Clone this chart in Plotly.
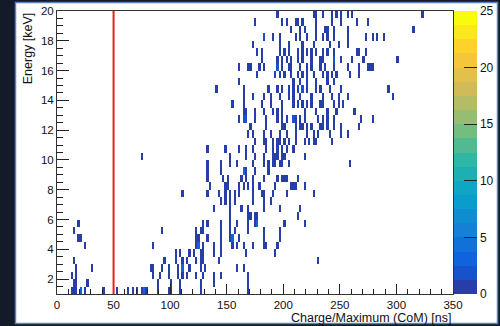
import numpy as np
import plotly.graph_objects as go

# ---------------- data ----------------
# energy bin centres (keV) and, per energy row, the CoM positions (ns) of occupied cells
energy_rows = [19.75, 19.25, 18.75, 18.25, 17.75, 17.25, 16.75, 16.25, 15.75, 15.25,
               14.75, 14.25, 13.75, 13.25, 12.75, 12.25, 11.75, 11.25, 10.75, 10.25,
               9.75, 9.25, 8.75, 8.25, 7.75, 7.25, 6.75, 6.25, 5.75, 5.25,
               4.75, 4.25, 3.75, 3.25, 2.75, 2.25, 1.75, 1.25]

com_rows = [
    [194.5, 226.3, 228.1, 235.1, 243.1, 247.5, 251.9, 257.2, 261.7, 322.7],
    [175.0, 198.0, 202.5, 210.4, 212.2, 217.5, 229.8, 243.1, 251.9, 265.2, 274.9],
    [206.0, 214.8, 219.2, 229.8, 236.9, 239.6, 245.8, 256.4, 314.7],
    [183.9, 190.9, 197.1, 210.4, 214.8, 221.9, 228.1, 234.3, 238.7, 244.0, 256.4, 272.3, 278.4, 282.9, 289.9],
    [173.3, 197.1, 204.2, 216.6, 226.3, 241.3, 248.4, 257.2],
    [177.7, 180.3, 197.1, 201.6, 204.2, 213.0, 216.6, 221.9, 224.5, 229.8, 235.1, 238.7, 244.0, 265.2, 267.9, 272.3],
    [180.3, 194.5, 199.8, 203.3, 207.7, 212.2, 216.6, 225.4, 233.4, 235.1, 245.8, 251.9, 261.7, 270.5, 300.6],
    [161.8, 168.8, 170.6, 179.5, 183.9, 194.5, 199.8, 204.2, 207.7, 214.8, 221.0, 225.4, 232.5, 236.9, 245.8, 256.4, 266.1, 274.9, 276.7, 278.4],
    [177.7, 192.7, 197.1, 201.6, 206.0, 213.0, 216.6, 221.0, 226.3, 234.3, 238.7, 243.1, 247.5, 259.0, 266.1],
    [160.0, 208.6, 214.8, 221.9, 229.8, 239.6, 244.0],
    [140.6, 164.4, 186.5, 195.4, 199.8, 204.2, 208.6, 213.0, 216.6, 221.9, 229.8, 232.5, 241.3, 250.2, 292.6],
    [164.4, 173.3, 183.9, 189.2, 196.3, 205.1, 208.6, 215.7, 225.4, 234.3, 243.1, 248.4, 256.4, 296.1],
    [154.7, 164.4, 180.3, 189.2, 198.0, 208.6, 212.2, 217.5, 221.9, 225.4, 232.5, 235.1, 244.0, 248.4, 252.8],
    [164.4, 166.2, 174.1, 183.0, 190.1, 194.5, 199.8, 219.2, 229.8, 238.7, 247.5, 263.4],
    [160.0, 164.4, 166.2, 174.1, 184.7, 194.5, 198.9, 203.3, 208.6, 211.3, 214.8, 219.2, 230.7, 234.3, 238.7, 245.8, 269.6, 278.4],
    [170.6, 185.6, 198.0, 201.6, 210.4, 214.8, 217.5, 221.9, 225.4, 232.5, 235.1, 238.7, 244.0, 251.9, 267.9],
    [168.0, 172.4, 182.1, 188.3, 197.1, 203.3, 210.4, 221.9, 226.3, 230.7, 241.3, 250.2, 257.2],
    [175.0, 182.1, 185.6, 190.9, 194.5, 197.1, 201.6, 204.2, 210.4, 219.2, 223.7, 226.3, 229.8, 243.1],
    [133.5, 148.5, 161.0, 166.2, 173.3, 185.6, 190.1, 194.5, 198.9, 203.3, 208.6],
    [75.1, 152.9, 166.2, 175.0, 183.9, 190.1, 192.7, 195.4, 198.9, 201.6, 219.2],
    [132.6, 145.9, 152.0, 158.3, 172.4, 182.1, 186.5, 190.9, 193.6, 196.3, 199.8, 204.2, 259.0],
    [132.6, 145.9, 164.4, 167.1, 175.0, 186.5],
    [132.6, 147.6, 150.3, 162.6, 166.2, 173.3, 183.9, 195.4, 198.0, 200.7, 203.3, 213.0],
    [135.3, 148.5, 151.2, 161.8, 165.3, 168.0, 173.3, 179.5, 192.7, 206.0, 208.6, 210.4, 219.2],
    [111.4, 132.6, 142.3, 148.5, 152.9, 157.4, 160.0, 173.3, 181.2, 183.9, 190.9, 203.3, 226.3],
    [144.1, 148.5, 152.9, 157.4, 173.3, 182.1, 188.3],
    [138.0, 153.8, 163.5, 168.0, 183.9, 197.1, 214.8],
    [152.9, 168.8, 171.5, 174.1, 176.8, 212.2],
    [18.6, 129.9, 132.6, 144.1, 152.9, 159.1, 168.8, 175.0, 176.8, 201.6, 219.2],
    [14.1, 93.7, 123.8, 126.4, 128.2, 144.1, 152.9, 157.4, 168.8, 183.9, 197.1],
    [18.6, 20.3, 122.0, 124.6, 133.5, 144.1, 152.0, 155.6, 160.0, 183.9, 197.1],
    [24.8, 84.0, 122.0, 124.6, 129.9, 138.0, 145.9, 154.7, 159.1, 164.4, 173.3, 182.1, 185.6, 194.5],
    [104.3, 108.7, 117.6, 120.2, 126.4, 129.1, 138.0, 145.0, 166.2, 192.7],
    [14.1, 95.5, 104.3, 110.5, 114.9, 122.0, 126.4, 129.9, 142.3, 230.7],
    [17.7, 30.9, 82.2, 84.9, 92.8, 99.9, 107.9, 110.5, 117.6, 126.4, 130.8, 158.3, 164.4],
    [13.3, 17.7, 84.0, 91.0, 98.1, 107.0, 110.5, 114.9, 123.8, 129.1, 138.0, 144.1, 168.8],
    [15.9, 17.7, 26.5, 88.4, 101.7, 108.7, 126.4, 139.7, 168.0],
    [13.0, 15.9, 17.7, 20.3, 24.8, 40.7, 53.0, 62.8, 66.3, 70.7, 75.5, 77.8, 79.6, 88.4, 98.1, 101.7, 108.7, 126.4, 168.0],
]

# additional counts in the brighter (multi-count) cells
extra_com = [164.4, 164.4, 176.8, 176.8, 155.6, 155.6, 124.6, 124.6, 110.5, 110.5,
             20.3, 20.3, 77.8, 77.8, 183.9, 216.6, 194.5, 245.8, 208.6, 166.2, 164.4]
extra_energy = [9.25, 9.25, 5.75, 5.75, 4.75, 4.75, 4.25, 4.25, 2.75, 2.75,
                1.25, 1.25, 1.25, 1.25, 18.25, 14.75, 16.25, 16.75, 12.75, 12.75, 12.75]

cut_com = 50
x_ticks = [0, 50, 100, 150, 200, 250, 300, 350]
y_ticks = [2, 4, 6, 8, 10, 12, 14, 16, 18, 20]
cbar_ticks = [0, 5, 10, 15, 20, 25]

# ---------------- histogram ----------------
x_edges = np.linspace(0, 350, 176)   # 2 ns bins
y_edges = np.linspace(1, 20, 39)     # 0.5 keV bins
nx, ny = len(x_edges) - 1, len(y_edges) - 1

base_com = np.array([c for row in com_rows for c in row])
base_e = np.array([e for e, row in zip(energy_rows, com_rows) for _ in row])

def bin_index(vals, edges):
    return np.clip(np.digitize(vals, edges) - 1, 0, len(edges) - 2)

counts = np.zeros((ny, nx))
counts[bin_index(base_e, y_edges), bin_index(base_com, x_edges)] = 1
np.add.at(counts, (bin_index(np.array(extra_energy), y_edges),
                   bin_index(np.array(extra_com), x_edges)), 1)
z = counts.copy()
z[z == 0] = np.nan
x_centers = 0.5 * (x_edges[:-1] + x_edges[1:])
y_centers = 0.5 * (y_edges[:-1] + y_edges[1:])

# ROOT kBird palette, 20 contour levels
st = [0.0, 0.125, 0.25, 0.375, 0.5, 0.625, 0.75, 0.875, 1.0]
rr = [0.2082, 0.0592, 0.0780, 0.0232, 0.1802, 0.5301, 0.8186, 0.9956, 0.9764]
gg = [0.1664, 0.3599, 0.5041, 0.6419, 0.7178, 0.7492, 0.7328, 0.7862, 0.9832]
bb = [0.5293, 0.8684, 0.8385, 0.7914, 0.6425, 0.4662, 0.3499, 0.1968, 0.0539]
ndiv = 20
colorscale = []
for k in range(ndiv):
    idx = int((k + 0.99) * 255 / ndiv)
    p = min(idx / 254.0, 1.0)
    r = np.interp(p, st, rr); g = np.interp(p, st, gg); b = np.interp(p, st, bb)
    col = "rgb(%d,%d,%d)" % (round(r * 255), round(g * 255), round(b * 255))
    colorscale.append([k / ndiv, col])
    colorscale.append([(k + 1) / ndiv, col])

FONT = "Liberation Sans, Arial, Helvetica, sans-serif"

fig = go.Figure()
fig.add_trace(go.Heatmap(
    x=x_centers, y=y_centers, z=z,
    zmin=0, zmax=25, colorscale=colorscale,
    hoverongaps=False,
    colorbar=dict(
        x=1.0025, xanchor="left", y=0, yanchor="bottom",
        len=1, lenmode="fraction", thickness=23, thicknessmode="pixels",
        xpad=0, ypad=0, outlinewidth=0,
        ticks="inside", ticklen=13, tickcolor="#222", tickwidth=1,
        tickvals=cbar_ticks, ticklabelposition="outside",
        tickfont=dict(family=FONT, size=12, color="#111"),
    ),
))

fig.add_shape(type="rect", xref="paper", yref="paper",
              x0=-0.1048, x1=1.1124, y0=-0.1042, y1=1.030,
              fillcolor="white", line=dict(color="#5a82c0", width=1.5), layer="below")
fig.add_shape(type="line", xref="x", yref="y", x0=cut_com, x1=cut_com, y0=1, y1=20,
              line=dict(color="#ee1c1c", width=2))

fig.add_annotation(text="Charge/Maximum (CoM) [ns]", xref="paper", yref="paper",
                   x=1.0, y=-0.086, xanchor="right", yanchor="middle", showarrow=False,
                   font=dict(family=FONT, size=12.5, color="#111"))
fig.add_annotation(text="Energy [keV]", xref="paper", yref="paper",
                   x=-0.073, y=1.003, xanchor="center", yanchor="top", textangle=-90,
                   showarrow=False, font=dict(family=FONT, size=12.5, color="#111"))

fig.update_xaxes(range=[0, 350], tickvals=x_ticks, ticks="inside", ticklen=10,
                 tickcolor="#222", showline=True, linecolor="#333", linewidth=1,
                 mirror=True, showgrid=False, zeroline=False,
                 minor=dict(ticks="inside", ticklen=5, dtick=10, tick0=0,
                            tickcolor="#222", showgrid=False),
                 tickfont=dict(family=FONT, size=11.5, color="#111"))
fig.update_yaxes(range=[1, 20], tickvals=y_ticks, ticks="inside", ticklen=12,
                 tickcolor="#222", showline=True, linecolor="#333", linewidth=1,
                 mirror=True, showgrid=False, zeroline=False,
                 minor=dict(ticks="inside", ticklen=6, dtick=0.5, tick0=0,
                            tickcolor="#222", showgrid=False),
                 tickfont=dict(family=FONT, size=11.5, color="#111"))

fig.update_layout(
    width=500, height=326, autosize=False,
    margin=dict(l=57, r=47, t=11, b=32, pad=0, autoexpand=False),
    paper_bgcolor="#131a2a", plot_bgcolor="white",
    showlegend=False,
)

fig.write_html("out.html")
